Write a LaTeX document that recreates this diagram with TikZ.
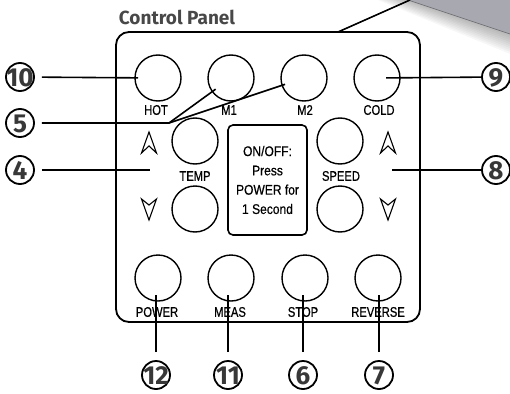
\documentclass[tikz,border=0pt]{standalone}
\usepackage{fontspec}
\setmainfont{Liberation Sans}
\newfontfamily\condfont[FakeStretch=0.8, FakeBold=0.6]{Liberation Sans}
\newfontfamily\dispfont[FakeStretch=0.86, FakeBold=0.5]{Liberation Sans}
\newfontfamily\headfont{Fira Sans}
\usetikzlibrary{positioning}
\definecolor{numgray}{HTML}{383838}
\definecolor{headgray}{HTML}{484848}
\definecolor{devgray}{HTML}{A8A8B1}
\newcommand{\callnum}[1]{\makebox[0pt]{#1}}

\begin{document}
\begin{tikzpicture}[
  x=1pt, y=-1pt,
  btn/.style={circle, draw, line width=1.4pt, minimum size=46pt, inner sep=0pt},
  lbl/.style={font=\condfont\fontsize{14}{14}\selectfont, inner sep=0pt},
  numc/.style={circle, draw, line width=1.8pt, minimum size=28pt, inner sep=0pt,
               text height=18pt, text depth=0pt, text=numgray,
               font=\headfont\bfseries\fontsize{26}{26}\selectfont},
  lead/.style={line width=1.6pt},
  glyph/.style={line width=1.1pt, line join=miter}
]
\useasboundingbox (0,0) rectangle (510,393);

% edge of the unit, top right
\foreach \k in {1,...,10}
  \fill[black, opacity=0.03] (408-3*\k,0) -- (510,34+2*\k) -- (510,0) -- cycle;
\fill[devgray] (408,0) -- (510,0) -- (510,34) -- cycle;
\draw[devgray!60!black, line width=0.6pt] (408,0) -- (510,34);

\node[font=\headfont\bfseries\fontsize{19}{19}\selectfont, text=headgray] (title) at (177,17) {Control Panel};

\node[draw, line width=1.8pt, rounded corners=13pt, minimum width=304pt,
      minimum height=290pt] (panel) at (268,177) {};

% top row
\node[btn] (hot)  at (158,78) {};
\node[btn] (m1)   at (231,78) {};
\node[btn] (m2)   at (304,78) {};
\node[btn] (cold) at (377,78) {};
\node[lbl] at (156,110) {HOT};
\node[lbl] at (229,110) {M1};
\node[lbl] at (305,110) {M2};
\node[lbl] at (379,110) {COLD};

% temp / speed
\node[btn] (tempup) at (195,141) {};
\node[btn] (tempdn) at (195,209) {};
\node[lbl] at (195,176) {TEMP};
\node[btn] (spdup) at (340,141) {};
\node[btn] (spddn) at (340,209) {};
\node[lbl] at (341,176) {SPEED};

\draw[glyph] (149,132) -- (156.5,153) -- (149,146) -- (141.5,153) -- cycle;
\draw[glyph] (149,220) -- (156.5,199) -- (149,205) -- (141.5,199) -- cycle;
\draw[glyph] (388,132) -- (395.5,153) -- (388,146) -- (380.5,153) -- cycle;
\draw[glyph] (388,220) -- (395.5,199) -- (388,205) -- (380.5,199) -- cycle;

\node[draw, line width=1.6pt, rounded corners=5pt, minimum width=79pt, minimum height=110pt,
      align=center, font=\dispfont\fontsize{14}{19.3}\selectfont] (disp) at (267.5,180)
  {ON/OFF:\\Press\\POWER for\\1 Second};

% bottom row
\node[btn] (power) at (158,278) {};
\node[btn] (meas)  at (231,278) {};
\node[btn] (stop)  at (305,278) {};
\node[btn] (rev)   at (378,278) {};
\node[lbl] at (157,312) {POWER};
\node[lbl] at (230,312) {MEAS};
\node[lbl] at (303,312) {STOP};
\node[lbl] at (378,312) {REVERSE};

% callout numbers
\node[numc] (n10) at (20,77)  {\callnum{10}};
\node[numc] (n5)  at (20,123) {\callnum{5}};
\node[numc] (n4)  at (20,170) {\callnum{4}};
\node[numc] (n9)  at (496,77) {\callnum{9}};
\node[numc] (n8)  at (496,170) {\callnum{8}};
\node[numc] (n12) at (156,375) {\callnum{12}};
\node[numc] (n11) at (228,375) {\callnum{11}};
\node[numc] (n6)  at (303,375) {\callnum{6}};
\node[numc] (n7)  at (379,375) {\callnum{7}};

\coordinate (j5)  at (169,123);
\coordinate (e4)  at (150,170);
\coordinate (e8)  at (392,170);
\coordinate (e12) at (156,295);
\coordinate (e11) at (228,295);
\coordinate (e6)  at (303,295);
\coordinate (e7)  at (379,295);
\coordinate (top) at (338,32);
\coordinate (unit) at (410,0);

\draw[lead, shorten <=7pt, shorten >=20pt] (n10) -- (hot.center);
\draw[lead, shorten <=9pt] (cold.center) -- (n9);
\draw[lead, shorten <=7pt, shorten >=19pt] (n5) -- (j5) -- (m1.center);
\draw[lead, shorten >=20pt] (j5) -- (m2.center);
\draw[lead, shorten <=7pt] (n4) -- (e4);
\draw[lead] (e8) -- (n8);
\draw[lead, shorten <=8pt] (n12) -- (e12);
\draw[lead, shorten <=8pt] (n11) -- (e11);
\draw[lead, shorten <=8pt] (n6) -- (e6);
\draw[lead, shorten <=8pt] (n7) -- (e7);
\draw[lead] (top) -- (unit);
\end{tikzpicture}
\end{document}
